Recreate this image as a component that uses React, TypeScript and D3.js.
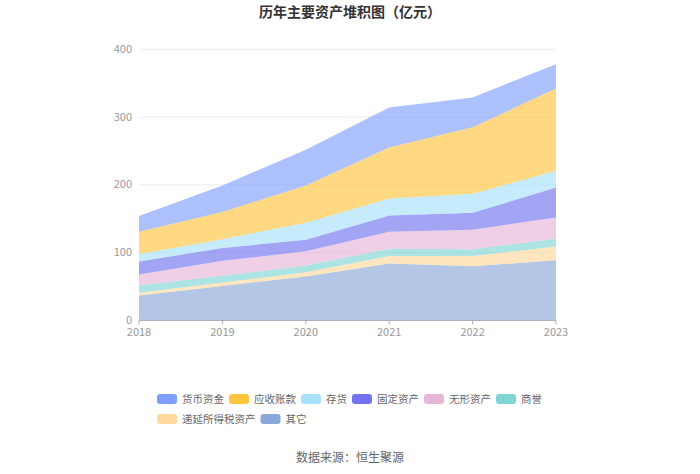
import React from "react";
import * as d3 from "d3";

const years = ["2018", "2019", "2020", "2021", "2022", "2023"];
const seriesNames = ["货币资金", "应收账款", "存货", "固定资产", "无形资产", "商誉", "递延所得税资产", "其它"];
const colors = ["#7f9ffd", "#ffc53d", "#a8e0fb", "#7373f0", "#e7b6d8", "#80d4d4", "#ffd89b", "#8aa8d9"];

const cash = [23, 39, 53, 59, 44, 36];
const receivables = [33, 40, 55, 75, 98, 121];
const inventory = [11, 13, 25, 25, 28, 25];
const fixedAssets = [19, 19, 17, 24, 25, 44];
const intangible = [16, 22, 21, 25, 29, 31];
const goodwill = [11, 10, 10, 11, 10, 12];
const deferredTax = [4, 5, 6, 11, 15, 20];
const other = [37, 51, 65, 84, 80, 89];

const yTicks = [0, 100, 200, 300, 400];

const W = 700;
const H = 474;
const left = 139;
const right = 556;
const top = 49.3;
const bottom = 320.5;

export default function App() {
  const seriesValues = [cash, receivables, inventory, fixedAssets, intangible, goodwill, deferredTax, other];
  const rows = years.map((y, i) => {
    const r: any = { year: y };
    seriesNames.forEach((n, k) => (r[n] = seriesValues[k][i]));
    return r;
  });
  const order = [...seriesNames].reverse();
  const stacked = d3.stack<any>().keys(order)(rows);

  const x = d3.scalePoint<string>().domain(years).range([left, right]);
  const y = d3.scaleLinear().domain([0, 400]).range([bottom, top]);
  const area = d3
    .area<any>()
    .x((d: any) => x(d.data.year)!)
    .y0((d: any) => y(d[0]))
    .y1((d: any) => y(d[1]));

  const font = "'Noto Sans CJK SC', 'Noto Sans', sans-serif";

  const charW = 10.5;
  const rowsLegend = [seriesNames.slice(0, 6), seriesNames.slice(6)];
  const legendItems: { name: string; x: number; y: number; color: string }[] = [];
  rowsLegend.forEach((row, ri) => {
    let cx = 157;
    row.forEach((n) => {
      legendItems.push({ name: n, x: cx, y: 399 + ri * 20, color: colors[seriesNames.indexOf(n)] });
      cx += 30 + n.length * charW;
    });
  });

  return (
    <svg width={W} height={H} style={{ position: "absolute", left: 0, top: 0, fontFamily: font }}>
      <rect width={W} height={H} fill="#ffffff" />
      <text x={350} y={17} textAnchor="middle" fontSize={14} fontWeight="bold" fill="#333">
        历年主要资产堆积图（亿元）
      </text>
      {yTicks.map((t) =>
        t === 0 ? null : (
          <line key={t} x1={left} x2={right} y1={y(t)} y2={y(t)} stroke="#e8eaf2" strokeWidth={1} />
        )
      )}
      {stacked.map((s) => (
        <path key={s.key} d={area(s as any)!} fill={colors[seriesNames.indexOf(s.key)]} fillOpacity={0.65} stroke="none" />
      ))}
      <line x1={left} x2={right} y1={bottom} y2={bottom} stroke="#a9afbf" strokeWidth={1} />
      {years.map((yr) => (
        <g key={yr}>
          <line x1={x(yr)} x2={x(yr)} y1={bottom} y2={bottom + 4} stroke="#a9afbf" />
          <text x={x(yr)} y={bottom + 15} textAnchor="middle" fontSize={11} fill="#999">
            {yr}
          </text>
        </g>
      ))}
      {yTicks.map((t) => (
        <text key={t} x={left - 7} y={y(t) + 3.5} textAnchor="end" fontSize={11} fill="#999">
          {t}
        </text>
      ))}
      {legendItems.map((it) => (
        <g key={it.name}>
          <rect x={it.x} y={it.y - 5} width={20} height={10} rx={3} fill={it.color} />
          <text x={it.x + 25} y={it.y + 4} fontSize={10.5} fill="#666">
            {it.name}
          </text>
        </g>
      ))}
      <text x={350} y={462} textAnchor="middle" fontSize={12} fill="#666">
        数据来源：恒生聚源
      </text>
    </svg>
  );
}
